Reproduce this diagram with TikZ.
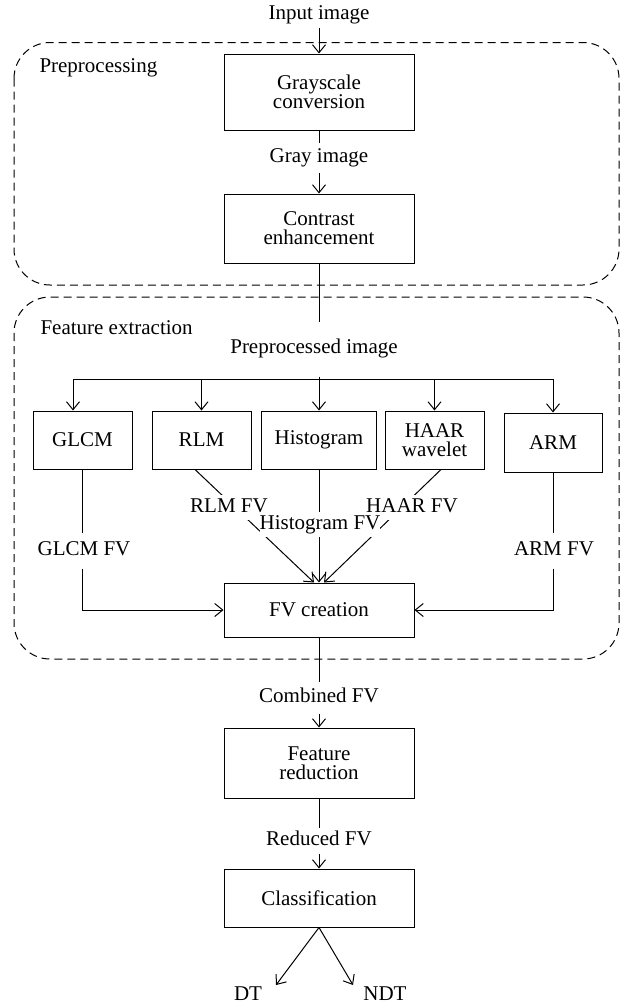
\documentclass[tikz,border=0pt]{standalone}
\usepackage{fontspec}
\setmainfont{Liberation Serif}
\usetikzlibrary{arrows.meta}
\begin{document}
\begin{tikzpicture}[x=1pt,y=-1pt,
  every node/.style={font=\fontsize{21}{19}\selectfont},
  every path/.style={line width=1pt},
  box/.style={draw, line width=1pt, inner sep=0pt, align=center},
  rowbox/.style={box, minimum width=99pt, minimum height=58pt},
  mainbox/.style={box, minimum width=190pt},
  flow/.style={inner sep=0pt, text height=14pt, text depth=4.5pt},
  onlabel/.style={flow, fill=white, inner xsep=1pt, inner ysep=3pt, anchor=base},
  arr/.style={-{Straight Barb[length=8pt,width=13pt]}},
  group/.style={dash pattern=on 8pt off 5pt, rounded corners=36pt}]
\useasboundingbox (0,0) rectangle (626,1004);

% groups
\draw[group] (14,42.5) rectangle (619,285);
\draw[group] (14,297) rectangle (619,659);
\node[flow, anchor=base west] (plab) at (39,72) {Preprocessing};
\node[flow, anchor=base west] (felab) at (40,334) {Feature extraction};

% preprocessing
\node[flow, anchor=base, inner ysep=3.5pt] (inp) at (319,19) {Input image};
\node[mainbox, minimum height=76pt] (gray) at (319,92) {Grayscale\\conversion};
\node[flow, minimum height=29pt] (grayimg) at (319,157.5) {Gray image};
\node[mainbox, minimum height=69pt] (contrast) at (319,228.5) {Contrast\\enhancement};
\draw[arr] (inp) -- (gray);
\draw (gray) -- (grayimg);
\draw[arr] (grayimg) -- (contrast);

% feature extraction
\node[flow, minimum height=54pt] (pp) at (314,349) {Preprocessed image};
\node[rowbox] (glcm) at (82.5,440) {GLCM};
\node[rowbox] (rlm) at (201.5,440) {RLM};
\node[rowbox, minimum width=115pt] (hist) at (319,440) {Histogram};
\node[rowbox] (haar) at (434.5,440) {HAAR\\wavelet};
\node[rowbox, minimum width=98pt, minimum height=59pt] (arm) at (553,442.5) {ARM};
\node[box, minimum width=190pt, minimum height=54pt] (fv) at (319,610) {FV creation};

\draw (contrast.south) -- (contrast.south |- pp.north);
\draw[arr] (contrast.south |- pp.south) -- (hist.north);
\coordinate (busL) at (73,379);
\coordinate (busR) at (553,379);
\draw (busL) -- (busR);
\draw[arr] (busL) -- (busL |- glcm.north);
\draw[arr] (rlm.north |- busL) -- (rlm.north);
\draw[arr] (haar.north |- busL) -- (haar.north);
\draw[arr] (busR) -- (arm.north);

\node[flow, minimum height=35pt] (glcmfv) at (84,550.5) {GLCM FV};
\node[flow, minimum height=35pt] (armfv) at (554,550.5) {ARM FV};
\draw (glcm.south) -- (glcm.south |- glcmfv.north);
\draw[arr] (glcm.south |- glcmfv.south) |- (fv.west);
\draw (arm.south) -- (arm.south |- armfv.north);
\draw[arr] (arm.south |- armfv.south) |- (fv.east);

\draw[arr] ([xshift=-6.5pt]rlm.south) -- ([xshift=-5pt]fv.north);
\draw[arr] (hist.south) -- (fv.north);
\draw[arr] ([xshift=6.5pt]haar.south) -- ([xshift=5pt]fv.north);
\node[onlabel] (rlmfv) at (229,512) {RLM FV};
\node[onlabel] (haarfv) at (412,512) {HAAR FV};
\node[onlabel, inner xsep=0pt] (histfv) at (320,529) {Histogram FV};

% reduction and classification
\node[flow, minimum height=31pt] (comb) at (319,697.5) {Combined FV};
\node[mainbox, minimum height=70pt] (fred) at (319,763) {Feature\\reduction};
\node[flow, minimum height=25pt] (red) at (319,840.5) {Reduced FV};
\node[mainbox, minimum height=58pt] (cls) at (319,898) {Classification};
\draw (fv) -- (comb);
\draw[arr] (comb) -- (fred);
\draw (fred) -- (red);
\draw[arr] (red) -- (cls);

\node[flow, anchor=base] (dt) at (248,1000) {DT};
\node[flow, anchor=base] (ndt) at (385,1000) {NDT};
\coordinate (dttip) at (276,985);
\coordinate (ndttip) at (353,985);
\draw[arr] (cls.south) -- (dttip);
\draw[arr] (cls.south) -- (ndttip);
\end{tikzpicture}
\end{document}
